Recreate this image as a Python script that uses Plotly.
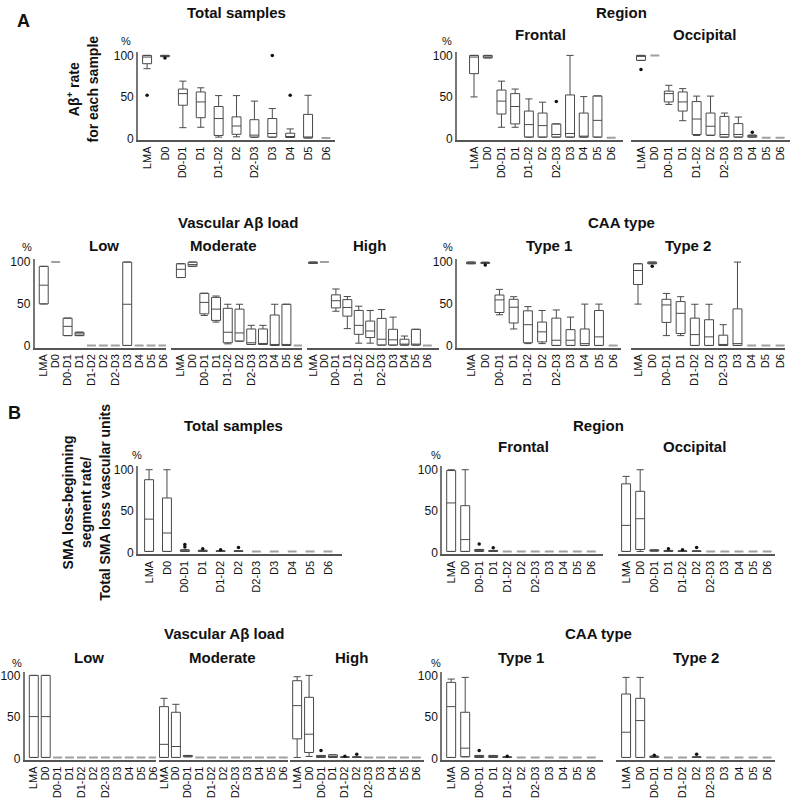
import plotly.graph_objects as go

CATS = ["LMA", "D0", "D0-D1", "D1", "D1-D2", "D2", "D2-D3", "D3", "D4", "D5", "D6"]

# Each row, one per category: (lower whisker, Q1, median, Q3, upper whisker), in %
# ---------- A: Abeta+ rate for each sample ----------
A_total = [(84, 90, 98, 100, 100), (98.5, 98.5, 99.5, 100, 100), (13, 40, 54, 59.5, 69),
           (13.5, 25, 44, 56, 61), (1.6, 3.6, 24, 38.5, 51.6), (2, 5, 15, 26, 51.6),
           (1.5, 1.6, 4, 22.6, 45), (1.5, 1.6, 6, 24, 36), (1.2, 1.2, 2, 6.3, 11.5),
           (0.6, 0.6, 1, 29, 52), (0.6, 0.6, 0.6, 0.6, 0.6)]
A_total_out = [(0, 52), (1, 97), (7, 100), (8, 52)]

A_frontal = [(50, 78, 98, 100, 100), (97, 97, 98, 100, 100), (13.5, 29.4, 45, 58.3, 69),
             (13.5, 17.5, 38.5, 54, 59.5), (1.6, 1.6, 16.7, 33, 47.6), (1.6, 1.6, 15.5, 30.6, 43.7),
             (1.6, 1.6, 4.8, 17.5, 17.5), (1.6, 1.6, 6, 52.4, 100), (1.6, 1.6, 1.6, 30.6, 50.4),
             (1.6, 1.6, 21.8, 51.2, 51.2), (1, 1, 1, 1, 1)]
A_frontal_out = [(6, 44.4)]

A_occipital = [(94, 94, 99, 100, 100), (100, 100, 100, 100, 100), (41, 44, 54, 57, 64),
               (21.4, 33, 44, 56, 60), (3.6, 4.8, 23.4, 44.4, 51), (3.6, 4, 14.7, 30.6, 51),
               (1.6, 1.6, 4.8, 26.6, 30.6), (1.6, 1.6, 4.8, 17.9, 25.8), (1.6, 1.6, 3, 4, 4),
               (1, 1, 1, 1, 1), (1, 1, 1, 1, 1)]
A_occipital_out = [(0, 83), (8, 7.5)]

A_low = [(50.2, 50.2, 72.5, 94.9, 94.9), (100, 100, 100, 100, 100), (12.5, 12.5, 23.5, 33.3, 33.3),
         (12.5, 12.5, 14.5, 16.5, 16.5), (0.8, 0.8, 0.8, 0.8, 0.8), (0.8, 0.8, 0.8, 0.8, 0.8),
         (0.8, 0.8, 0.8, 0.8, 0.8), (0.8, 0.8, 49.8, 100, 100), (0.8, 0.8, 0.8, 0.8, 0.8),
         (0.8, 0.8, 0.8, 0.8, 0.8), (0.8, 0.8, 0.8, 0.8, 0.8)]
A_low_out = []

A_moderate = [(81.6, 81.6, 91.4, 98, 98), (95, 95, 97, 100, 100), (36.5, 38.4, 52, 62.7, 63),
              (28.6, 30.6, 44, 58, 59.6), (2.7, 4, 16.5, 45, 49.8), (5.9, 5.9, 15.7, 44, 49.8),
              (2, 2, 4, 20.4, 24.7), (2, 2, 2.7, 20.4, 24.7), (0.8, 0.8, 0.8, 37, 49.8),
              (0.8, 0.8, 0.8, 49.8, 49.8), (0.6, 0.6, 0.6, 0.6, 0.6)]
A_moderate_out = []

A_high = [(98.5, 98.5, 99, 100, 100), (100, 100, 100, 100, 100), (41.5, 45.5, 54, 61, 68),
          (20.8, 35.7, 46, 55.3, 59), (3.5, 14, 24.7, 42.4, 47.5), (3.5, 10.2, 18, 29.8, 42.4),
          (1.2, 1.2, 8.2, 33, 43.5), (1.2, 1.2, 7.5, 20, 34.5), (1.2, 1.2, 2, 8.2, 12),
          (1.2, 1.2, 1.2, 20, 20), (0.8, 0.8, 0.8, 0.8, 0.8)]
A_high_out = []

A_type1 = [(98, 98, 99, 100, 100), (98.5, 98.5, 99, 99.5, 100), (37.3, 40, 55, 60.8, 67.5),
           (20.4, 27.5, 46.3, 55.7, 58.8), (3, 4, 25.5, 42, 47), (3, 5, 17, 28.6, 42.4),
           (0.8, 0.8, 7, 33.3, 43), (0.8, 0.8, 7, 19.6, 34.5), (0.8, 0.8, 3, 20.4, 50),
           (0.8, 0.8, 11, 42.4, 50), (0.8, 0.8, 0.8, 0.8, 0.8)]
A_type1_out = [(1, 96.5)]

A_type2 = [(50, 73.3, 90, 98, 98), (98, 98, 99, 100, 100), (12.5, 28.2, 49, 55.7, 62.7),
           (12.5, 15, 39, 53, 58.8), (0.8, 0.8, 13.7, 33.3, 49.8), (0.8, 0.8, 11, 31.4, 49.8),
           (0.8, 0.8, 0.8, 13, 25.5), (0.8, 0.8, 3, 44.3, 100), (0.8, 0.8, 0.8, 0.8, 0.8),
           (0.8, 0.8, 0.8, 0.8, 0.8), (0.8, 0.8, 0.8, 0.8, 0.8)]
A_type2_out = [(1, 95)]

# ---------- B: SMA loss-beginning segment rate ----------
FLAT_B = (1.6, 1.6, 1.6, 1.6, 1.6)
B_total = [(1.6, 1.6, 40.5, 88, 100), (1.6, 1.6, 23.8, 66, 100), (1.6, 1.6, 2, 3.6, 3.6),
           (1.6, 1.6, 2, 3, 3), (1.6, 1.6, 1.6, 2.5, 2.5), (1.6, 1.6, 1.6, 2.5, 2.5),
           FLAT_B, FLAT_B, FLAT_B, FLAT_B, FLAT_B]
B_total_out = [(2, 10), (2, 7), (3, 5), (4, 3.8), (5, 6.3)]

B_frontal = [(1.6, 1.6, 60, 99, 100), (1.6, 1.6, 15.9, 56.7, 100), (1.6, 1.6, 2, 4, 4),
             (1.6, 1.6, 2, 2.8, 2.8), FLAT_B, FLAT_B, FLAT_B, FLAT_B, FLAT_B, FLAT_B, FLAT_B]
B_frontal_out = [(2, 10.7), (3, 6)]

B_occipital = [(1.6, 1.6, 33, 83, 92), (1.6, 4, 41, 74, 100), (2, 2, 3, 3.5, 3.5),
               (1.6, 1.6, 2, 2.8, 2.8), (1.6, 1.6, 1.6, 2.4, 2.4), (1.6, 1.6, 1.6, 2.4, 2.4),
               FLAT_B, FLAT_B, FLAT_B, FLAT_B, FLAT_B]
B_occipital_out = [(3, 4.8), (4, 3.8), (5, 6.3)]

FLAT_B2 = (1.2, 1.2, 1.2, 1.2, 1.2)
B_low = [(1.2, 1.2, 50.4, 100, 100), (1.2, 1.2, 50.4, 100, 100)] + [FLAT_B2] * 9
B_low_out = []

B_moderate = [(1.2, 1.2, 17, 62.4, 72.4), (1.2, 1.2, 14.4, 55.6, 65.2), (2, 2, 3, 3.6, 3.6)] + [FLAT_B2] * 8
B_moderate_out = []

B_high = [(1.2, 23.6, 63.6, 93.6, 98.4), (2.4, 7.2, 29.2, 73.6, 100), (1.2, 1.2, 2, 3.6, 3.6),
          (1.2, 1.2, 2, 4.4, 4.4), (1.2, 1.2, 1.2, 2, 2), (1.2, 1.2, 1.2, 2, 2)] + [FLAT_B2] * 5
B_high_out = [(2, 9.6), (4, 2.6), (5, 5.2)]

B_type1 = [(1.2, 1.2, 62.4, 91.6, 95.6), (2, 2, 12.4, 55.6, 97.6), (1.2, 1.2, 2, 3.6, 3.6),
           (1.2, 1.2, 2, 3.6, 3.6), (1.2, 1.2, 1.2, 2, 2)] + [FLAT_B2] * 6
B_type1_out = [(2, 9.6), (4, 2.8)]

B_type2 = [(1.2, 1.2, 31.6, 77.6, 97.6), (1.2, 1.2, 45.6, 72.4, 97.6), (1.2, 1.2, 2, 2.8, 2.8),
           FLAT_B2, FLAT_B2, (1.2, 1.2, 1.2, 2, 2)] + [FLAT_B2] * 5
B_type2_out = [(2, 3.8), (5, 5.2)]

Y_TICKS = [0, 50, 100]

# ---------------- layout geometry (pixels) ----------------
W, H = 800, 805
FONT = "Liberation Sans, Arial, sans-serif"
# (stats, outliers, first cat px, spacing px, axis start px, axis end px, y(100) px, y(0) px, show y axis)
panels = [
    (A_total, A_total_out, 146, 18, 137, 335, 53, 137, True),
    (A_frontal, A_frontal_out, 475, 13.8, 458, 625, 53, 137, True),
    (A_occipital, A_occipital_out, 643, 14, 633, 793, 53, 137, False),
    (A_low, A_low_out, 42, 12, 33, 165, 262, 347, True),
    (A_moderate, A_moderate_out, 180, 11.8, 170, 302, 262, 347, False),
    (A_high, A_high_out, 313, 11.5, 307, 440, 262, 347, False),
    (A_type1, A_type1_out, 472, 14.3, 458, 623, 262, 347, True),
    (A_type2, A_type2_out, 640, 14.3, 633, 788, 262, 347, False),
    (B_total, B_total_out, 148, 18, 137, 342, 472, 556, True),
    (B_frontal, B_frontal_out, 452, 14.1, 443, 605, 472, 556, True),
    (B_occipital, B_occipital_out, 628, 14.2, 620, 778, 472, 556, False),
    (B_low, B_low_out, 32, 12, 23, 155, 680, 764, True),
    (B_moderate, B_moderate_out, 163, 12, 158, 288, 680, 764, False),
    (B_high, B_high_out, 297, 12, 290, 425, 680, 764, False),
    (B_type1, B_type1_out, 452, 14.1, 443, 605, 680, 764, True),
    (B_type2, B_type2_out, 628, 14.2, 618, 778, 680, 764, False),
]

YMIN, YMAX = -2, 104
BOX_PX = 9

fig = go.Figure()
layout = dict(width=W, height=H, margin=dict(l=0, r=0, t=0, b=0),
              paper_bgcolor="white", plot_bgcolor="white", showlegend=False,
              font=dict(family=FONT, color="#111"))


def fy(py):
    return 1 - py / H


for i, (stats, outs, c0, s, xs, xe, y100, y0, showy) in enumerate(panels, start=1):
    k = (y0 - y100) / 100.0
    xa, ya = f"x{i}", f"y{i}"
    for j, (lo, q1, md, q3, hi) in enumerate(stats):
        flat = (hi - lo) < 0.01
        fig.add_trace(go.Box(
            x=[j], q1=[q1], median=[md], q3=[q3], lowerfence=[lo], upperfence=[hi],
            xaxis=xa, yaxis=ya, width=BOX_PX / s, whiskerwidth=0.8, boxpoints=False,
            line=dict(color="#a0a0a0" if flat else "#4a4a4a", width=2 if flat else 1),
            fillcolor="rgba(0,0,0,0)", hoverinfo="skip"))
    if outs:
        fig.add_trace(go.Scatter(
            x=[o[0] for o in outs], y=[o[1] for o in outs], mode="markers",
            marker=dict(size=3.5, color="#111"), xaxis=xa, yaxis=ya, hoverinfo="skip"))
    sx = "" if i == 1 else str(i)
    layout["xaxis" + sx] = dict(
        domain=[xs / W, xe / W], range=[(xs - c0) / s, (xe - c0) / s], anchor=ya,
        tickmode="array", tickvals=list(range(len(CATS))), ticktext=CATS, tickangle=-90,
        tickfont=dict(size=11, family=FONT, color="#111"), ticks="", showgrid=False,
        zeroline=False, showline=True, linecolor="#555", linewidth=2, fixedrange=True)
    layout["yaxis" + sx] = dict(
        domain=[fy(y0 - YMIN * k), fy(y100 - (YMAX - 100) * k)], range=[YMIN, YMAX], anchor=xa,
        tickmode="array", tickvals=Y_TICKS, ticktext=[str(t) for t in Y_TICKS],
        showticklabels=showy, tickfont=dict(size=12, family=FONT, color="#111"), ticks="",
        showgrid=False, zeroline=False, showline=showy, linecolor="#777", linewidth=2,
        fixedrange=True)

fig.update_layout(**layout)

ann = []


def text(px, py, t, size=15, bold=True, angle=0):
    ann.append(dict(x=px / W, y=fy(py), xref="paper", yref="paper", text=f"<b>{t}</b>" if bold else t,
                    showarrow=False, font=dict(size=size, family=FONT, color="#111"),
                    textangle=angle, xanchor="center", yanchor="middle"))


# panel letters
text(22, 18, "A", 18)
text(13, 415, "B", 18)
# y labels
text(81, 87, "Aβ<sup>+</sup> rate<br>for each sample", 14, angle=-90)
text(85, 505, "SMA loss-beginning<br>segment rate/<br>Total SMA loss vascular units", 14, angle=-90)
# row 1
text(236, 10, "Total samples")
text(623, 10, "Region")
text(542, 32, "Frontal")
text(707, 32, "Occipital")
# row 2
text(237, 222, "Vascular Aβ load")
text(103, 245, "Low")
text(223, 245, "Moderate")
text(370, 245, "High")
text(623, 222, "CAA type")
text(550, 245, "Type 1")
text(690, 245, "Type 2")
# row 3
text(233, 427, "Total samples")
text(600, 427, "Region")
text(525, 449, "Frontal")
text(697, 449, "Occipital")
# row 4
text(223, 638, "Vascular Aβ load")
text(88, 662, "Low")
text(222, 662, "Moderate")
text(352, 662, "High")
text(600, 638, "CAA type")
text(522, 662, "Type 1")
text(698, 662, "Type 2")
# percent signs
for (px, py) in [(125, 38), (448, 38), (25, 247), (449, 247), (136, 457), (437, 457), (15, 667), (437, 667)]:
    text(px, py, "%", 11, bold=False)

fig.update_layout(annotations=ann)
fig.write_html("out.html")
